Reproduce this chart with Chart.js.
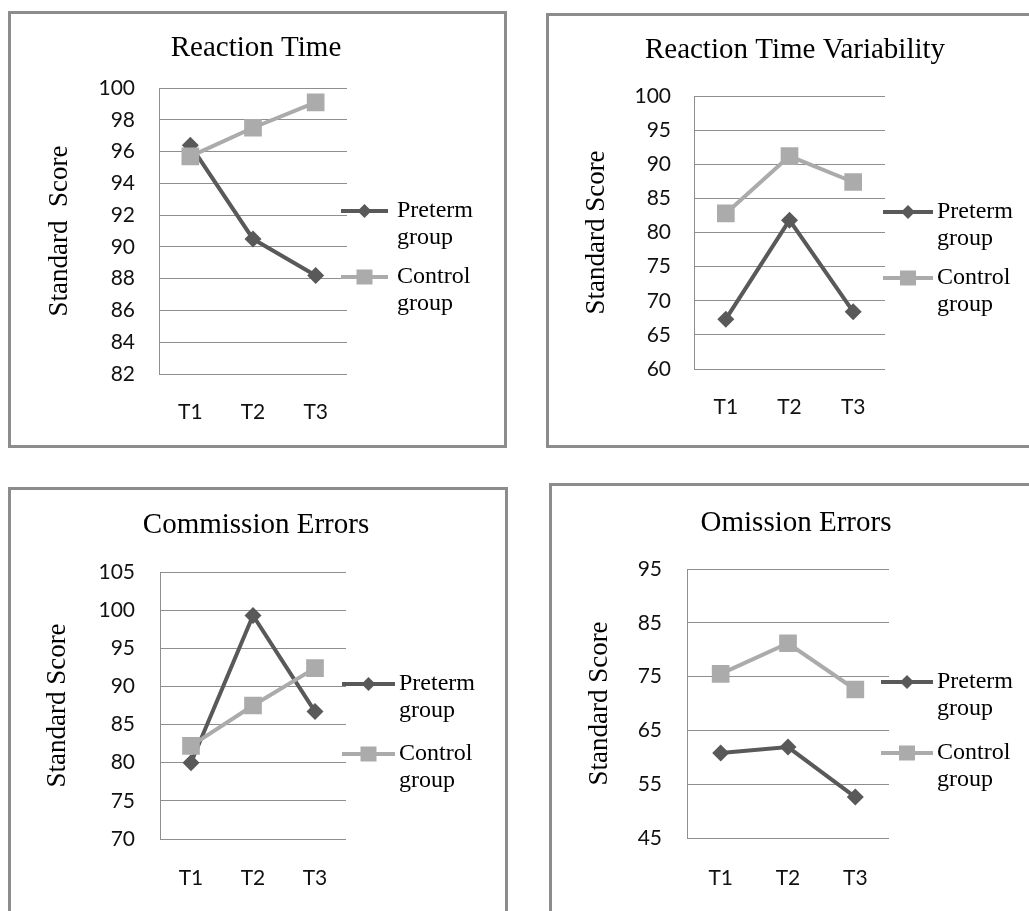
<!DOCTYPE html>
<html><head><meta charset="utf-8">
<script src="https://cdn.jsdelivr.net/npm/chart.js@4.4.0/dist/chart.umd.min.js"></script>
<style>
html,body{margin:0;padding:0;background:#fff;overflow:hidden;width:1029px;height:911px;position:relative;}
canvas{position:absolute;}
.frame{position:absolute;border:3px solid #8c8c8c;box-sizing:border-box;pointer-events:none;}
</style></head><body>
<canvas id="c1"></canvas><canvas id="c2"></canvas><canvas id="c3"></canvas><canvas id="c4"></canvas>
<div class="frame" style="left:8px;top:11px;width:499px;height:437px"></div>
<div class="frame" style="left:546px;top:13px;width:499px;height:435px"></div>
<div class="frame" style="left:8px;top:487px;width:500px;height:440px"></div>
<div class="frame" style="left:549px;top:483px;width:499px;height:440px"></div>
<script>
// ---- data ----
const categories = ['T1', 'T2', 'T3'];
const seriesLabels = [['Preterm', 'group'], ['Control', 'group']];
const chartTitles = ['Reaction Time', 'Reaction Time Variability', 'Commission Errors', 'Omission Errors'];
const yAxisTitles = ['Standard  Score', 'Standard Score', 'Standard Score', 'Standard Score'];

const rtPreterm = [96.4, 90.5, 88.2];
const rtControl = [95.7, 97.5, 99.1];
const rtvPreterm = [67.3, 81.8, 68.4];
const rtvControl = [82.8, 91.2, 87.4];
const cePreterm = [80.0, 99.3, 86.7];
const ceControl = [82.2, 87.5, 92.4];
const oePreterm = [60.8, 61.9, 52.6];
const oeControl = [75.5, 81.2, 72.6];

const rtTicks = [82, 84, 86, 88, 90, 92, 94, 96, 98, 100];
const rtvTicks = [60, 65, 70, 75, 80, 85, 90, 95, 100];
const ceTicks = [70, 75, 80, 85, 90, 95, 100, 105];
const oeTicks = [45, 55, 65, 75, 85, 95];

// ---- styling ----
const PRETERM = '#595959';
const CONTROL = '#ababab';
const GRID = '#8e8e8e';
const SERIF = '"Liberation Serif", "Times New Roman", serif';
const SANS = 'Lato, "Open Sans", sans-serif';

const decor = {
  id: 'decor',
  afterDraw(chart, args, o) {
    const ctx = chart.ctx;
    ctx.save();
    ctx.fillStyle = '#000';
    ctx.textAlign = 'center';
    ctx.textBaseline = 'middle';
    ctx.font = '29px ' + SERIF;
    ctx.fillText(o.title, o.titleX, o.titleY);
    const items = [
      {color: PRETERM, style: 'diamond', y: o.legY1, text: seriesLabels[0]},
      {color: CONTROL, style: 'square', y: o.legY2, text: seriesLabels[1]}
    ];
    items.forEach(it => {
      ctx.strokeStyle = it.color;
      ctx.lineWidth = 4;
      ctx.beginPath();
      ctx.moveTo(o.legX1, it.y);
      ctx.lineTo(o.legX2, it.y);
      ctx.stroke();
      const cx = (o.legX1 + o.legX2) / 2;
      ctx.fillStyle = it.color;
      ctx.beginPath();
      if (it.style === 'diamond') {
        const r = 7;
        ctx.moveTo(cx - r, it.y); ctx.lineTo(cx, it.y - r); ctx.lineTo(cx + r, it.y); ctx.lineTo(cx, it.y + r);
        ctx.closePath();
      } else {
        ctx.rect(cx - 8, it.y - 7.5, 16, 15);
      }
      ctx.fill();
      ctx.fillStyle = '#000';
      ctx.textAlign = 'left';
      ctx.font = '24px ' + SERIF;
      it.text.forEach((t, i) => ctx.fillText(t, o.legTextX, it.y + i * 27));
    });
    ctx.restore();
  }
};

function makeChart(id, box, g, title, yTitle, preterm, control, ticks) {
  const cv = document.getElementById(id);
  cv.width = box.w; cv.height = box.h;
  cv.style.left = box.x + 'px'; cv.style.top = box.y + 'px';
  const XH = 50, PL = 20;
  const step = ticks[1] - ticks[0];
  new Chart(cv, {
    type: 'line',
    data: {
      labels: categories,
      datasets: [
        {label: seriesLabels[1].join(' '), data: control, borderColor: CONTROL, backgroundColor: CONTROL,
         borderWidth: 4, pointStyle: 'rect', pointRadius: 12.5, pointHoverRadius: 12.5, pointBorderWidth: 0, tension: 0, order: 0},
        {label: seriesLabels[0].join(' '), data: preterm, borderColor: PRETERM, backgroundColor: PRETERM,
         borderWidth: 4, pointStyle: 'rectRot', pointRadius: 8.5, pointHoverRadius: 8.5, pointBorderWidth: 0, tension: 0, order: 1}
      ]
    },
    options: {
      responsive: false, animation: false, devicePixelRatio: 1,
      events: [],
      layout: {padding: {left: PL, top: g.T, right: box.w - g.R, bottom: box.h - g.B - XH}},
      plugins: {
        legend: {display: false}, title: {display: false}, tooltip: {enabled: false},
        decor: {title: title, titleX: g.titleX, titleY: g.titleY, legX1: g.legX1, legX2: g.legX2,
                legTextX: g.legTextX, legY1: g.legY1, legY2: g.legY2}
      },
      scales: {
        x: {
          offset: true,
          grid: {display: false, drawTicks: false},
          border: {display: false},
          ticks: {padding: g.xGap - 12.6, color: '#111', font: {family: SANS, size: 21, lineHeight: 1.2}},
          afterFit(s) { s.height = XH; }
        },
        y: {
          min: ticks[0], max: ticks[ticks.length - 1],
          afterBuildTicks(s) { s.ticks = ticks.map(v => ({value: v})); },
          ticks: {stepSize: step, padding: g.L - g.tickRight, color: '#111', font: {family: SANS, size: 21}},
          grid: {color: GRID, lineWidth: 1, drawTicks: false},
          border: {display: true, color: GRID, width: 1},
          title: {display: true, text: yTitle, color: '#000', font: {family: SERIF, size: 27, lineHeight: 1.2},
                  padding: {top: g.yTitleX - PL - 16.2, bottom: 0}},
          afterFit(s) { s.width = g.L - PL; }
        }
      }
    },
    plugins: [decor]
  });
}

makeChart('c1', {x: 8, y: 11, w: 499, h: 437},
  {L: 151, R: 339, T: 77, B: 363, tickRight: 127, yTitleX: 52, xGap: 38, titleX: 248, titleY: 37,
   legX1: 333, legX2: 380, legTextX: 389, legY1: 200, legY2: 266},
  chartTitles[0], yAxisTitles[0], rtPreterm, rtControl, rtTicks);

makeChart('c2', {x: 546, y: 13, w: 499, h: 435},
  {L: 148, R: 339, T: 83, B: 356, tickRight: 125, yTitleX: 51, xGap: 38, titleX: 249, titleY: 37,
   legX1: 337, legX2: 387, legTextX: 391, legY1: 199, legY2: 265},
  chartTitles[1], yAxisTitles[1], rtvPreterm, rtvControl, rtvTicks);

makeChart('c3', {x: 8, y: 487, w: 500, h: 440},
  {L: 152, R: 338, T: 85, B: 352, tickRight: 127, yTitleX: 50, xGap: 39, titleX: 248, titleY: 38,
   legX1: 334, legX2: 387, legTextX: 391, legY1: 197, legY2: 267},
  chartTitles[2], yAxisTitles[2], cePreterm, ceControl, ceTicks);

makeChart('c4', {x: 549, y: 483, w: 499, h: 440},
  {L: 138, R: 340, T: 86, B: 355, tickRight: 113, yTitleX: 51, xGap: 40, titleX: 247, titleY: 40,
   legX1: 332, legX2: 384, legTextX: 388, legY1: 199, legY2: 270},
  chartTitles[3], yAxisTitles[3], oePreterm, oeControl, oeTicks);
</script>
</body></html>
